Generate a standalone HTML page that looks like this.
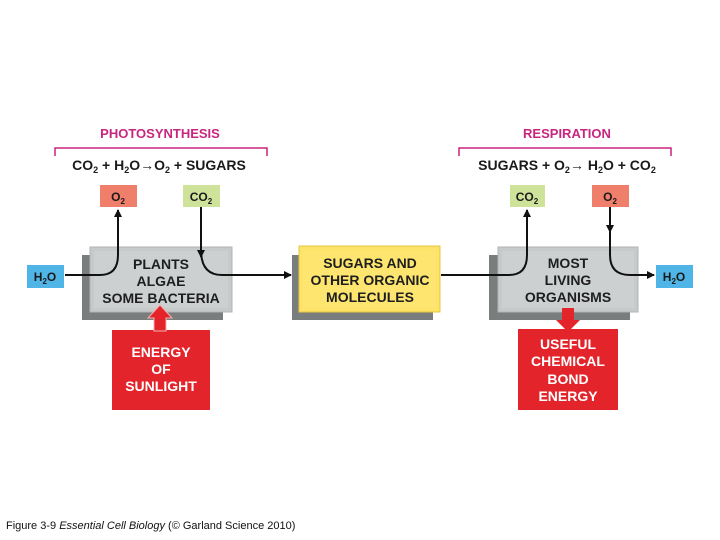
<!DOCTYPE html>
<html><head><meta charset="utf-8"><style>
html,body{margin:0;padding:0;background:#fff;}
svg{display:block;}
text{font-family:"Liberation Sans",sans-serif;font-weight:bold;}
</style></head><body>
<svg width="720" height="540" viewBox="0 0 720 540" xmlns="http://www.w3.org/2000/svg">
<defs>
<marker id="ah" markerWidth="8" markerHeight="8" refX="7" refY="4" orient="auto" markerUnits="userSpaceOnUse">
<path d="M0,0 L8,4 L0,8 Z" fill="#111"/></marker>
</defs>
<text x="160" y="138" font-size="13" fill="#c8257f" text-anchor="middle">PHOTOSYNTHESIS</text>
<path d="M55,156 V148 H267 V156" fill="none" stroke="#c8257f" stroke-width="1.5"/>
<text x="159" y="170" font-size="14" fill="#1a1a1a" text-anchor="middle">CO<tspan font-size="9" dy="3">2</tspan><tspan dy="-3"> + H</tspan><tspan font-size="9" dy="3">2</tspan><tspan dy="-3">O→O</tspan><tspan font-size="9" dy="3">2</tspan><tspan dy="-3"> + SUGARS</tspan></text>
<text x="567" y="138" font-size="13" fill="#c8257f" text-anchor="middle">RESPIRATION</text>
<path d="M459,156 V148 H671 V156" fill="none" stroke="#c8257f" stroke-width="1.5"/>
<text x="567" y="170" font-size="14" fill="#1a1a1a" text-anchor="middle">SUGARS + O<tspan font-size="9" dy="3">2</tspan><tspan dy="-3">→ H</tspan><tspan font-size="9" dy="3">2</tspan><tspan dy="-3">O + CO</tspan><tspan font-size="9" dy="3">2</tspan></text>

<rect x="100" y="185" width="37" height="22" fill="#ef7e6a"/>
<text x="118" y="201" font-size="12" text-anchor="middle" fill="#1a1a1a">O<tspan font-size="8" dy="3">2</tspan></text>
<rect x="183" y="185" width="37" height="22" fill="#cfe29a"/>
<text x="201" y="201" font-size="12" text-anchor="middle" fill="#1a1a1a">CO<tspan font-size="8" dy="3">2</tspan></text>
<rect x="510" y="185" width="35" height="22" fill="#cfe29a"/>
<text x="527" y="201" font-size="12" text-anchor="middle" fill="#1a1a1a">CO<tspan font-size="8" dy="3">2</tspan></text>
<rect x="592" y="185" width="37" height="22" fill="#ef7e6a"/>
<text x="610" y="201" font-size="12" text-anchor="middle" fill="#1a1a1a">O<tspan font-size="8" dy="3">2</tspan></text>
<rect x="27" y="265" width="37" height="23" fill="#4fb5e6"/>
<text x="45" y="281" font-size="12" text-anchor="middle" fill="#1a1a1a">H<tspan font-size="8" dy="3">2</tspan><tspan dy="-3">O</tspan></text>
<rect x="656" y="265" width="37" height="23" fill="#4fb5e6"/>
<text x="674" y="281" font-size="12" text-anchor="middle" fill="#1a1a1a">H<tspan font-size="8" dy="3">2</tspan><tspan dy="-3">O</tspan></text>

<rect x="82" y="255" width="141" height="65" fill="#7a7d7d"/>
<rect x="292" y="255" width="141" height="65" fill="#7a7d7d"/>
<rect x="489" y="255" width="141" height="65" fill="#7a7d7d"/>
<rect x="90" y="247" width="142" height="65" fill="#c7cacb" stroke="#b0b3b4"/>
<rect x="94" y="251" width="134" height="57" fill="#cdd0d1"/>
<rect x="299" y="246" width="141" height="66" fill="#fde36a" stroke="#e8c640"/>
<rect x="303" y="250" width="133" height="58" fill="#fde56f"/>
<rect x="498" y="247" width="140" height="65" fill="#c7cacb" stroke="#b0b3b4"/>
<rect x="502" y="251" width="132" height="57" fill="#cdd0d1"/>

<text font-size="14" fill="#1e1e1e" text-anchor="middle">
<tspan x="161" y="269">PLANTS</tspan><tspan x="161" y="286">ALGAE</tspan><tspan x="161" y="303">SOME BACTERIA</tspan></text>
<text font-size="14" fill="#1e1e1e" text-anchor="middle">
<tspan x="370" y="268">SUGARS AND</tspan><tspan x="370" y="285">OTHER ORGANIC</tspan><tspan x="370" y="302">MOLECULES</tspan></text>
<text font-size="14" fill="#1e1e1e" text-anchor="middle">
<tspan x="568" y="268">MOST</tspan><tspan x="568" y="285">LIVING</tspan><tspan x="568" y="302">ORGANISMS</tspan></text>

<path d="M65,275 H100 Q118,275 118,255 V210" fill="none" stroke="#111" stroke-width="2" marker-end="url(#ah)"/>
<path d="M201,207 V257" fill="none" stroke="#111" stroke-width="2" marker-end="url(#ah)"/>
<path d="M201,250 Q201,275 222,275 H291" fill="none" stroke="#111" stroke-width="2" marker-end="url(#ah)"/>
<path d="M441,275 H509 Q527,275 527,255 V210" fill="none" stroke="#111" stroke-width="2" marker-end="url(#ah)"/>
<path d="M610,207 V232" fill="none" stroke="#111" stroke-width="2" marker-end="url(#ah)"/>
<path d="M610,228 V255 Q610,275 630,275 H654" fill="none" stroke="#111" stroke-width="2" marker-end="url(#ah)"/>

<rect x="112" y="330" width="98" height="80" fill="#e3242b"/>
<path d="M154,331 V318 H148 L160,305 L172,318 H166 V331 Z" fill="#e3242b" stroke="#f6b0b0" stroke-width="1"/>
<text font-size="14" fill="#fff" text-anchor="middle">
<tspan x="161" y="357">ENERGY</tspan><tspan x="161" y="374">OF</tspan><tspan x="161" y="391">SUNLIGHT</tspan></text>
<rect x="518" y="329" width="100" height="81" fill="#e3242b"/>
<path d="M562,308 V320 H556 L568,332 L580,320 H574 V308 Z" fill="#e3242b"/>
<text font-size="14" fill="#fff" text-anchor="middle">
<tspan x="568" y="349">USEFUL</tspan><tspan x="568" y="366">CHEMICAL</tspan><tspan x="568" y="384">BOND</tspan><tspan x="568" y="401">ENERGY</tspan></text>

<text x="6" y="529" font-size="11" fill="#111" style="font-weight:normal">Figure 3-9  <tspan font-style="italic">Essential Cell Biology</tspan> (© Garland Science 2010)</text>
</svg>
</body></html>
